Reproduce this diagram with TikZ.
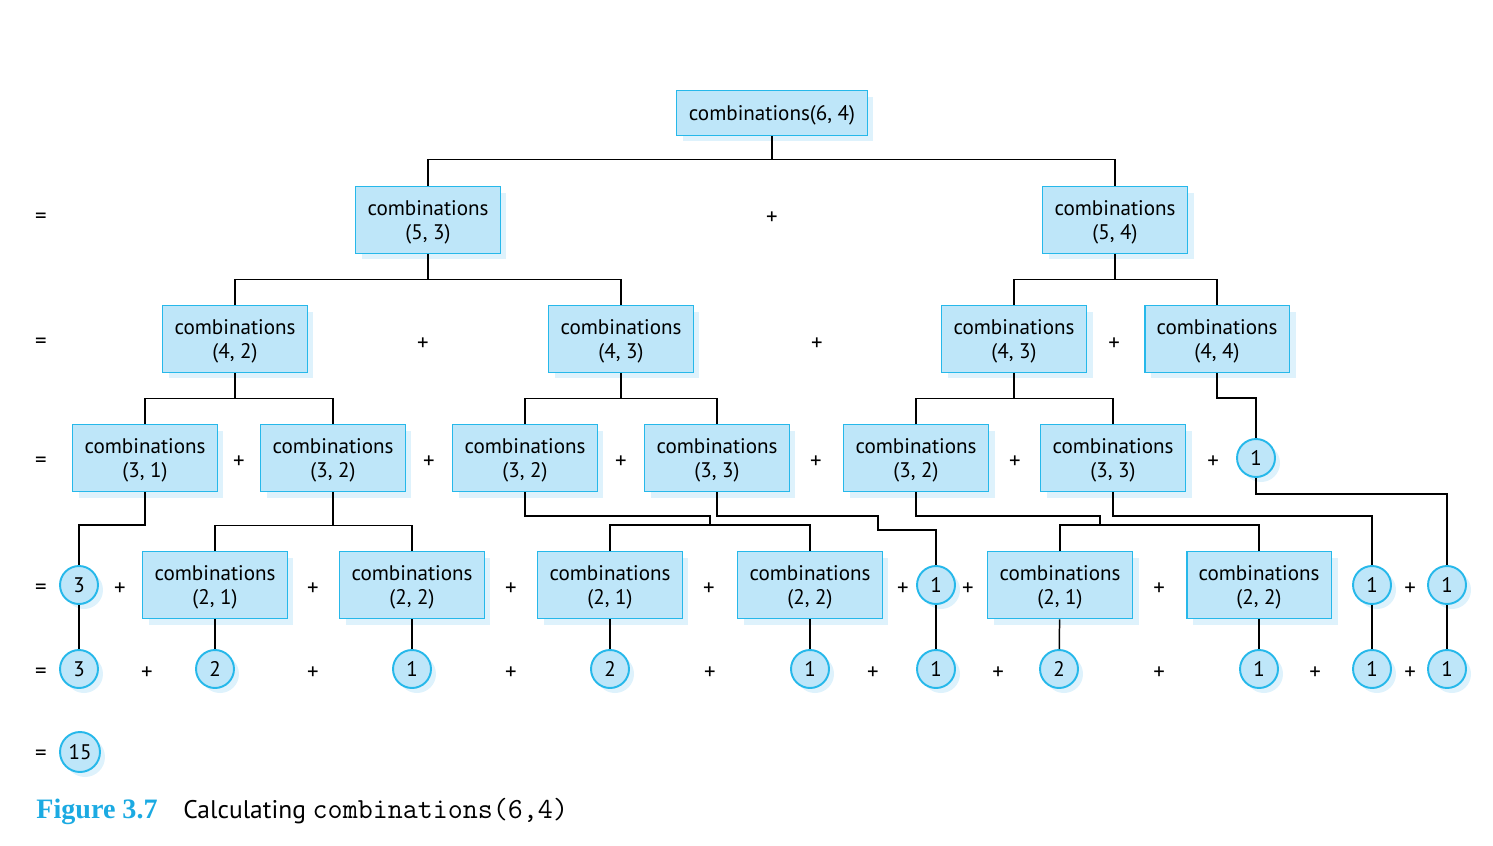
\documentclass[tikz,border=0pt]{standalone}
\usepackage{fontspec}
\setmainfont{PT Sans}
\newfontfamily\capserif{Liberation Serif}
\usetikzlibrary{shadows}

\definecolor{boxblue}{RGB}{190,230,249}
\definecolor{edgeblue}{RGB}{38,184,234}
\definecolor{shadeblue}{RGB}{222,242,252}
\definecolor{figblue}{RGB}{27,170,226}

\begin{document}
\begin{tikzpicture}[x=0.02cm,y=-0.02cm,font=\fontsize{12}{14}\selectfont,
    combbox/.style={draw=edgeblue,line width=1.1pt,fill=boxblue,align=center,
      minimum width=2.9cm,minimum height=1.34cm,inner sep=0pt,text depth=0pt,
      drop shadow={fill=shadeblue,opacity=1,shadow xshift=0.12cm,shadow yshift=-0.12cm}},
    leaf/.style={circle,draw=edgeblue,line width=1.1pt,fill=boxblue,
      minimum size=0.76cm,inner sep=0pt,
      drop shadow={fill=shadeblue,opacity=1,shadow xshift=0.1cm,shadow yshift=-0.1cm}},
    sign/.style={yshift=-0.07cm,font=\fontsize{13}{14}\selectfont},
    link/.style={black,line width=0.85pt}]
  \useasboundingbox (0,0) rectangle (1493,845);

% tree of calls
  \node[combbox,minimum width=3.82cm,minimum height=0.9cm] (c64) at (772,113) {combinations(6, 4)};
  \node[combbox] (c53) at (428,220) {combinations\\(5, 3)};
  \node[combbox] (c54) at (1115,220) {combinations\\(5, 4)};
  \node[combbox] (c42) at (235,339) {combinations\\(4, 2)};
  \node[combbox] (c43a) at (621,339) {combinations\\(4, 3)};
  \node[combbox] (c43b) at (1014,339) {combinations\\(4, 3)};
  \node[combbox] (c44) at (1217,339) {combinations\\(4, 4)};
  \node[combbox] (c31) at (145,458) {combinations\\(3, 1)};
  \node[combbox] (c32a) at (333,458) {combinations\\(3, 2)};
  \node[combbox] (c32b) at (525,458) {combinations\\(3, 2)};
  \node[combbox] (c33a) at (717,458) {combinations\\(3, 3)};
  \node[combbox] (c32c) at (916,458) {combinations\\(3, 2)};
  \node[combbox] (c33b) at (1113,458) {combinations\\(3, 3)};
  \node[leaf] (one3) at (1256,458) {1};
  \node[leaf] (three4) at (79,585) {3};
  \node[combbox] (c21a) at (215,585) {combinations\\(2, 1)};
  \node[combbox] (c22a) at (412,585) {combinations\\(2, 2)};
  \node[combbox] (c21b) at (610,585) {combinations\\(2, 1)};
  \node[combbox] (c22b) at (810,585) {combinations\\(2, 2)};
  \node[leaf] (one4a) at (936,585) {1};
  \node[combbox] (c21c) at (1060,585) {combinations\\(2, 1)};
  \node[combbox] (c22c) at (1259,585) {combinations\\(2, 2)};
  \node[leaf] (one4b) at (1372,585) {1};
  \node[leaf] (one4c) at (1447,585) {1};
  \foreach \x/\v [count=\i] in {79/3,215/2,412/1,610/2,810/1,936/1,1059/2,1259/1,1372/1,1447/1}
    \node[leaf] (r\i) at (\x,669) {\v};
  \node[leaf,minimum size=0.8cm] (total) at (80,752) {15};

% equals and plus signs
  \foreach \y [count=\i] in {215,340,459,586,670,752}
    \node[sign] (eq\i) at (41,\y) {=};
  \foreach \x/\y [count=\i] in {772/215,423/341,817/341,1114/341,
      239/459,429/459,621/459,816/459,1015/459,1213/459,
      120/586,313/586,511/586,709/586,903/586,968/586,1159/586,1410/586,
      147/670,313/670,511/670,710/670,873/670,998/670,1159/670,1315/670,1410/670}
    \node[sign] (plus\i) at (\x,\y) {+};

% connectors
  \draw[link] (c64.south) -- ++(0,23) -| (c53.north);
  \draw[link] (c64.south) -- ++(0,23) -| (c54.north);
  \draw[link] (c53.south) -- ++(0,25) -| (c42.north);
  \draw[link] (c53.south) -- ++(0,25) -| (c43a.north);
  \draw[link] (c54.south) -- ++(0,25) -| (c43b.north);
  \draw[link] (c54.south) -- ++(0,25) -| (c44.north);
  \draw[link] (c42.south) -- ++(0,25) -| (c31.north);
  \draw[link] (c42.south) -- ++(0,25) -| (c32a.north);
  \draw[link] (c43a.south) -- ++(0,25) -| (c32b.north);
  \draw[link] (c43a.south) -- ++(0,25) -| (c33a.north);
  \draw[link] (c43b.south) -- ++(0,25) -| (c32c.north);
  \draw[link] (c43b.south) -- ++(0,25) -| (c33b.north);
  \draw[link] (c44.south) |- (1256,398) -- (one3.north);
  \draw[link] (c31.south) |- (79,525) -- (three4.north);
  \draw[link] (c32a.south) -- ++(0,33) -| (c21a.north);
  \draw[link] (c32a.south) -- ++(0,33) -| (c22a.north);
  \coordinate (j1) at (710,525);
  \draw[link] (c32b.south) |- (710,516) -- (j1);
  \draw[link] (j1) -| (c21b.north);
  \draw[link] (j1) -| (c22b.north);
  \draw[link] (c33a.south) |- (878,516) |- (936,530) -- (one4a.north);
  \coordinate (j2) at (1100,525);
  \draw[link] (c32c.south) |- (1100,516) -- (j2);
  \draw[link] (j2) -| (c21c.north);
  \draw[link] (j2) -| (c22c.north);
  \draw[link] (c33b.south) |- (1372,516) -- (one4b.north);
  \draw[link] (one3.south) |- (1447,494) -- (one4c.north);
  \draw[link] (three4) -- (r1);
  \draw[link] (c21a) -- (r2);
  \draw[link] (c22a) -- (r3);
  \draw[link] (c21b) -- (r4);
  \draw[link] (c22b) -- (r5);
  \draw[link] (one4a) -- (r6);
  \draw[link] (c21c) -- (r7);
  \draw[link] (c22c) -- (r8);
  \draw[link] (one4b) -- (r9);
  \draw[link] (one4c) -- (r10);

% caption
  \node[anchor=base west,inner sep=0pt,text=figblue,font=\capserif\bfseries\fontsize{16}{18}\selectfont]
    (figlabel) at (36,818) {Figure 3.7};
  \node[anchor=base west,inner sep=0pt,font=\fontsize{14.5}{17}\selectfont]
    (figtitle) at (183,818) {Calculating \texttt{\fontsize{16.6}{18}\selectfont combinations(6,4)}};
\end{tikzpicture}
\end{document}
